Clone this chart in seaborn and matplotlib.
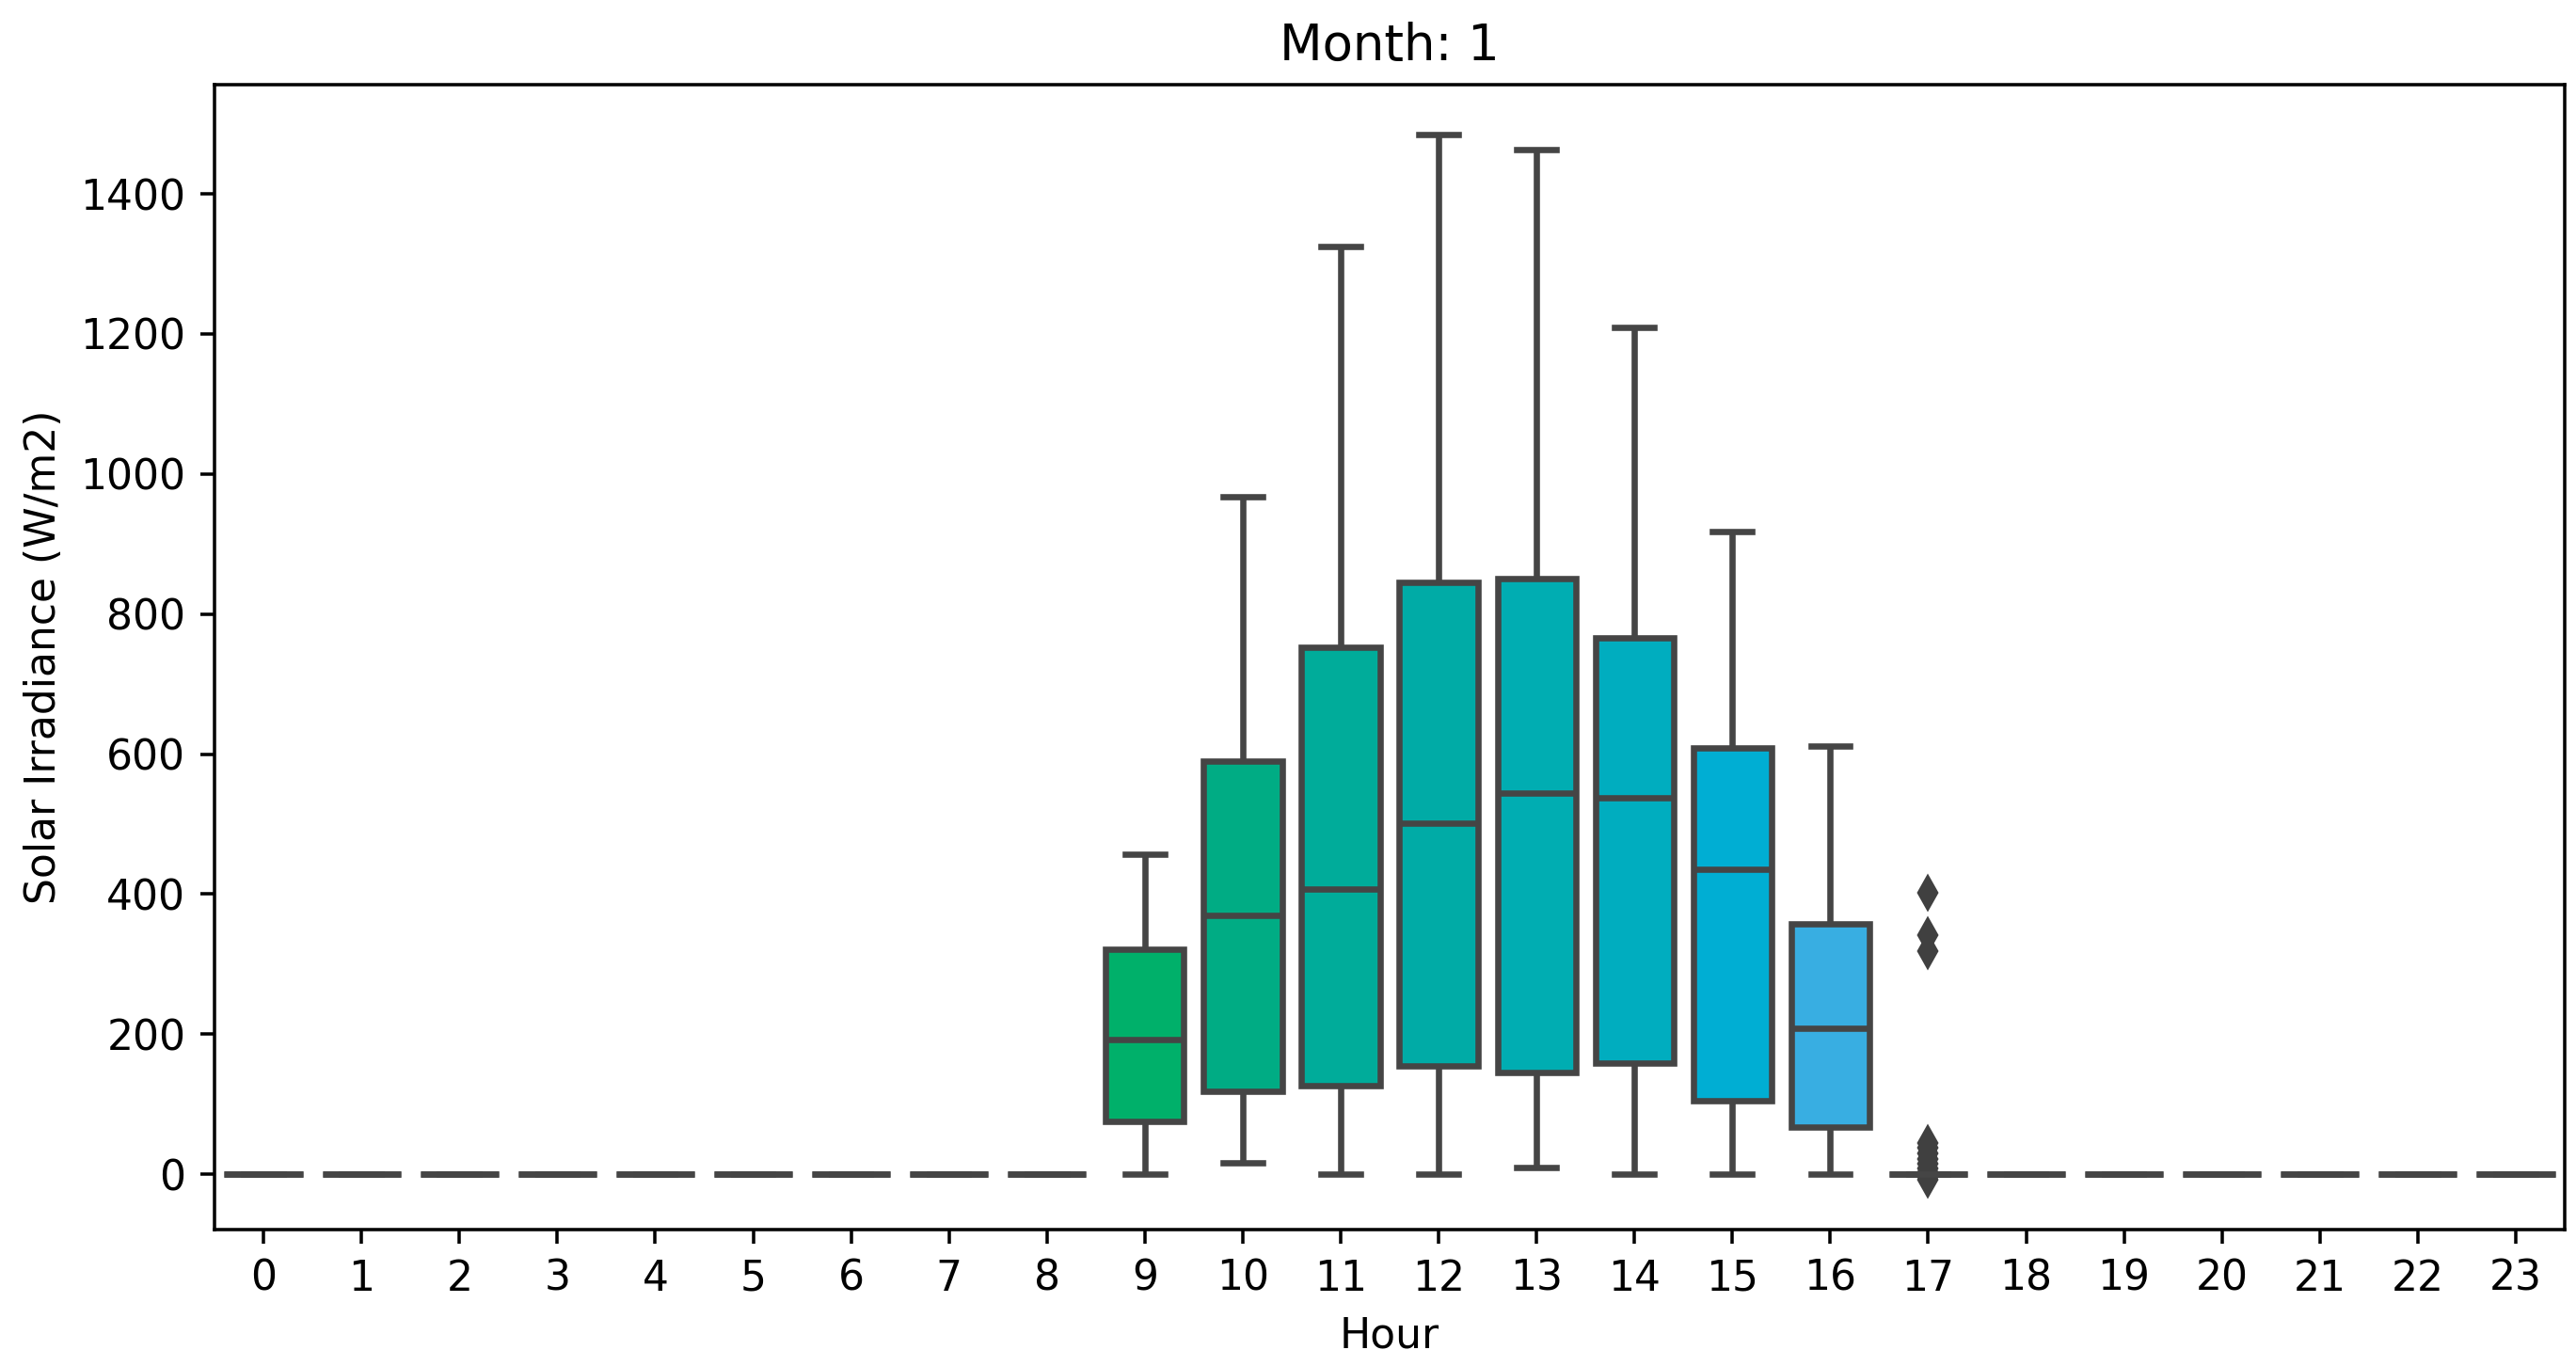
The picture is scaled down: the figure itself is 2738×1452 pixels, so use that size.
import numpy as np
import pandas as pd
import seaborn as sns
from matplotlib import pyplot as plt

hours = list(range(24))

# box summaries for the daylight hours (W/m2)
day_hours = [9, 10, 11, 12, 13, 14, 15, 16]
whisker_low = [0, 16, 0, 0, 10, 0, 0, 0]
q1 = [75, 119, 126, 155, 145, 159, 105, 68]
median = [192, 370, 407, 501, 545, 538, 436, 208]
q3 = [321, 590, 752, 845, 850, 766, 609, 358]
whisker_high = [457, 967, 1325, 1485, 1463, 1210, 918, 611]

# hour 17 is mostly zero with a handful of outliers
h17_zero_count = 40
h17_outliers = [402, 342, 318, 45, 38, 30, 22, 15, 8, 3, -4, -8]

rows = []
for h in hours:
    if h in day_hours:
        i = day_hours.index(h)
        vals = [whisker_low[i], q1[i], median[i], q3[i], whisker_high[i]]
    elif h == 17:
        vals = [0] * h17_zero_count + h17_outliers
    else:
        vals = [0] * 5
    rows += [(h, v) for v in vals]
df = pd.DataFrame(rows, columns=['Hour', 'Irradiance'])

# colours: husl for the flat boxes, sampled tones for the daylight ones
day_colors = ['#00b06a', '#00ac84', '#00ac9a', '#00aba6',
              '#00adb2', '#00adbf', '#00aed3', '#38aee2']
pal = dict(zip(hours, sns.color_palette('husl', 24)))
pal.update(dict(zip(day_hours, day_colors)))

fig = plt.figure(figsize=(2738 / 317, 1452 / 317), dpi=317)
ax = fig.add_axes([0.0833, 0.0999, 0.9123, 0.8381])

sns.boxplot(
    data=df,
    x='Hour',
    y='Irradiance',
    hue='Hour',
    order=hours,
    hue_order=hours,
    palette=pal,
    saturation=1,
    legend=False,
    linewidth=1.5,
    linecolor='.27',
    flierprops=dict(marker='d', markersize=5, markerfacecolor='.25', markeredgecolor='.25'),
    ax=ax,
)

ax.set_ylim(-79, 1556)
ax.set_xlim(-0.5, 23.5)
ax.set_title('Month: 1')
ax.set_xlabel('Hour')
ax.set_ylabel('Solar Irradiance (W/m2)')

plt.savefig('out.png', dpi=317)
plt.close()
